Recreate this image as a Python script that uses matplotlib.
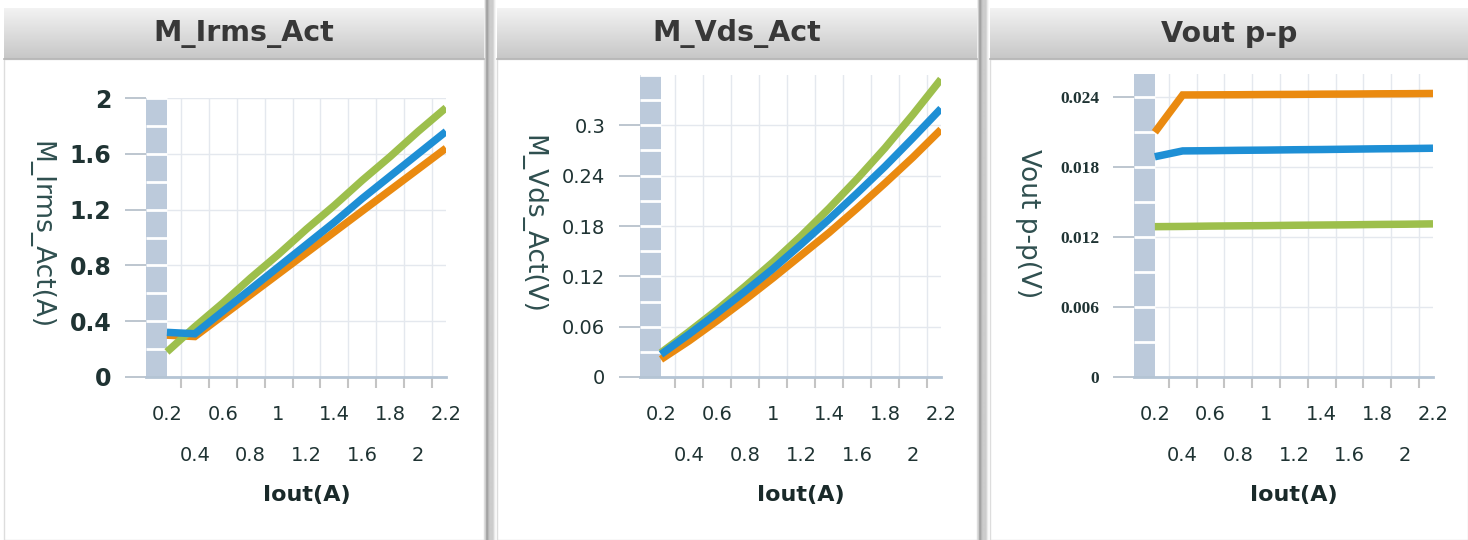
import numpy as np
import matplotlib
matplotlib.use("Agg")
import matplotlib.pyplot as plt
from matplotlib import transforms

plt.rcParams['font.family'] = ['DejaVu Sans']

# ---------------- data ----------------
iout_labels = ['0.2', '0.4', '0.6', '0.8', '1', '1.2', '1.4', '1.6', '1.8', '2', '2.2']

irms_orange = [0.30, 0.29, 0.44, 0.59, 0.74, 0.89, 1.04, 1.19, 1.34, 1.49, 1.64]
irms_blue = [0.32, 0.31, 0.47, 0.63, 0.79, 0.95, 1.11, 1.28, 1.44, 1.60, 1.76]
irms_green = [0.18, 0.36, 0.53, 0.71, 0.88, 1.06, 1.23, 1.41, 1.58, 1.76, 1.93]

vds_orange = [0.021, 0.043, 0.067, 0.092, 0.118, 0.145, 0.172, 0.201, 0.231, 0.262, 0.295]
vds_blue = [0.027, 0.051, 0.076, 0.102, 0.129, 0.158, 0.188, 0.219, 0.251, 0.285, 0.320]
vds_green = [0.029, 0.054, 0.080, 0.108, 0.137, 0.168, 0.201, 0.236, 0.273, 0.313, 0.355]

vpp_orange = [0.0210, 0.0242, 0.02421, 0.02422, 0.02424, 0.02425, 0.02427, 0.02428, 0.02430, 0.02431, 0.02433]
vpp_blue = [0.0189, 0.0194, 0.01942, 0.01945, 0.01947, 0.01950, 0.01952, 0.01955, 0.01958, 0.01960, 0.01963]
vpp_green = [0.0129, 0.01292, 0.01295, 0.01297, 0.01299, 0.01302, 0.01304, 0.01306, 0.01309, 0.01311, 0.01314]

titles = ['M_Irms_Act', 'M_Vds_Act', 'Vout p-p']
ylabels = ['M_Irms_Act(A)', 'M_Vds_Act(V)', 'Vout p-p(V)']
yticks_1 = [0, 0.4, 0.8, 1.2, 1.6, 2]
ytick_labels_1 = ['0', '0.4', '0.8', '1.2', '1.6', '2']
yticks_2 = [0, 0.06, 0.12, 0.18, 0.24, 0.3]
ytick_labels_2 = ['0', '0.06', '0.12', '0.18', '0.24', '0.3']
yticks_3 = [0, 0.006, 0.012, 0.018, 0.024]
ytick_labels_3 = ['0', '0.006', '0.012', '0.018', '0.024']

# ---------------- style ----------------
W, H = 1468, 540
ORANGE = '#ea8a10'
BLUE = '#1e8fd5'
GREEN = '#9dbf4c'
BAND = '#bccadb'
GRID = '#e4e8ee'
LABEL_C = '#1f3333'

fig = plt.figure(figsize=(W / 100, H / 100), dpi=100)
fig.patch.set_facecolor('white')

# background axes in pixel coordinates
bg = fig.add_axes([0, 0, 1, 1], zorder=-10)
bg.set_axis_off()

panels_px = [(4, 484), (497, 977), (990, 1468)]
hdr_top, hdr_bot = 8, 59
grad = np.linspace(0, 1, 64)
top_c = np.array([0.95, 0.95, 0.95])
bot_c = np.array([0.78, 0.78, 0.78])
hdr_img = (top_c[None, :] * (1 - grad[:, None]) + bot_c[None, :] * grad[:, None])[:, None, :]
for (x0, x1) in panels_px:
    bg.add_patch(plt.Rectangle((x0, hdr_bot), x1 - x0, 540 - hdr_bot, facecolor='white',
                               edgecolor='#dddddd', lw=1))
    bg.imshow(hdr_img, extent=(x0, x1, hdr_bot, hdr_top), aspect='auto', origin='upper',
              interpolation='bilinear')
    bg.plot([x0, x1], [hdr_bot, hdr_bot], color='#b5b5b5', lw=1.2)
# separators between panels
sep_prof = np.array([0.93, 0.80, 0.66, 0.64, 0.72, 0.78, 0.80, 0.80, 0.80, 0.84, 0.92, 0.97])
sep_img = np.repeat(sep_prof[None, :, None], 3, axis=2)
for sx in (484, 977):
    bg.imshow(sep_img, extent=(sx, sx + 12, 540, 0), aspect='auto', origin='upper',
              interpolation='bilinear')
bg.set_xlim(0, W)
bg.set_ylim(H, 0)

# titles
for (x0, x1), t in zip(panels_px, titles):
    bg.text((x0 + x1) / 2, 34, t, ha='center', va='center', fontsize=20.5,
            fontweight='bold', color='#383838')


def rect(left, right, top, bottom=377):
    return [left / W, 1 - bottom / H, (right - left) / W, (bottom - top) / H]


axes_specs = [
    dict(rect=rect(146, 446, 98), ylim=(0, 2), yticks=yticks_1, ylabs=ytick_labels_1,
         sep=0.2, series=(irms_orange, irms_green, irms_blue),
         yfont=dict(family='DejaVu Sans', size=17, weight='bold'),
         ylab_pos=(40, 235)),
    dict(rect=rect(640, 941, 75), ylim=(0, 0.36), yticks=yticks_2, ylabs=ytick_labels_2,
         sep=0.03, series=(vds_orange, vds_green, vds_blue),
         yfont=dict(family='DejaVu Sans', size=14, weight='normal'),
         ylab_pos=(532, 224)),
    dict(rect=rect(1134, 1433, 74), ylim=(0, 0.026), yticks=yticks_3, ylabs=ytick_labels_3,
         sep=0.003, series=(vpp_orange, vpp_green, vpp_blue),
         yfont=dict(family='Liberation Serif', size=12.5, weight='bold'),
         ylab_pos=(1028, 224)),
]

xidx = np.arange(len(iout_labels))
colors = (ORANGE, GREEN, BLUE)

for spec, ylab in zip(axes_specs, ylabels):
    ax = fig.add_axes(spec['rect'])
    ax.set_facecolor('none')
    ax.set_axisbelow(True)
    ax.set_xlim(-0.75, len(iout_labels) - 1)
    ax.set_ylim(*spec['ylim'])

    # y rail band with separators
    ax.axvspan(-0.75, 0, color=BAND, lw=0, zorder=1)
    seps = np.arange(spec['sep'], spec['ylim'][1] + 1e-12, spec['sep'])
    ax.hlines(seps, -0.75, 0, colors='white', lw=2, zorder=1.1)

    for ser, c in zip(spec['series'], colors):
        ax.plot(xidx, ser, color=c, lw=5.4, solid_capstyle='butt', solid_joinstyle='miter',
                zorder=3)

    for s in ('top', 'right', 'left'):
        ax.spines[s].set_visible(False)
    ax.spines['bottom'].set_color('#b4c4d4')
    ax.spines['bottom'].set_linewidth(2)

    # y axis
    ax.set_yticks(spec['yticks'])
    ax.set_yticklabels(spec['ylabs'])
    ax.tick_params(axis='y', which='major', direction='out', length=15, width=1.3,
                   color='#b8c2cc', pad=10, labelcolor=LABEL_C)
    for lab in ax.get_yticklabels():
        lab.set_fontfamily(spec['yfont']['family'])
        lab.set_fontsize(spec['yfont']['size'])
        lab.set_fontweight(spec['yfont']['weight'])
    ax.yaxis.grid(True, which='major', color=GRID, lw=1)

    # x axis: top-row labels (even points), tick marks between points
    ax.set_xticks(xidx[::2])
    ax.set_xticklabels(iout_labels[::2])
    ax.set_xticks(xidx[:-1] + 0.5, minor=True)
    ax.tick_params(axis='x', which='major', length=0, pad=20, labelsize=14,
                   labelcolor=LABEL_C)
    ax.tick_params(axis='x', which='minor', direction='out', length=8, width=1.5,
                   color='#c4c4c4')
    ax.xaxis.grid(True, which='minor', color=GRID, lw=1)
    ax.xaxis.grid(False, which='major')

    # bottom-row labels (odd points) on a secondary axis
    sec = ax.secondary_xaxis('bottom')
    sec.set_xticks(xidx[1::2])
    sec.set_xticklabels(iout_labels[1::2])
    sec.tick_params(axis='x', length=0, pad=50, labelsize=14, labelcolor=LABEL_C)
    sec.spines['bottom'].set_visible(False)

    ax.set_xlabel('Iout(A)', fontsize=16, fontweight='bold', color='#1a2a2a')
    blend = transforms.blended_transform_factory(ax.transData, fig.transFigure)
    ax.xaxis.set_label_coords(5, 1 - 495 / H, transform=blend)
    ax.xaxis.label.set_va('center')

    lx, ly = spec['ylab_pos']
    fig.text(lx / W, 1 - ly / H, ylab, rotation=270, ha='center', va='center',
             fontsize=19, color='#2f4f4f')

fig.savefig('out.png', dpi=100, facecolor='white')
